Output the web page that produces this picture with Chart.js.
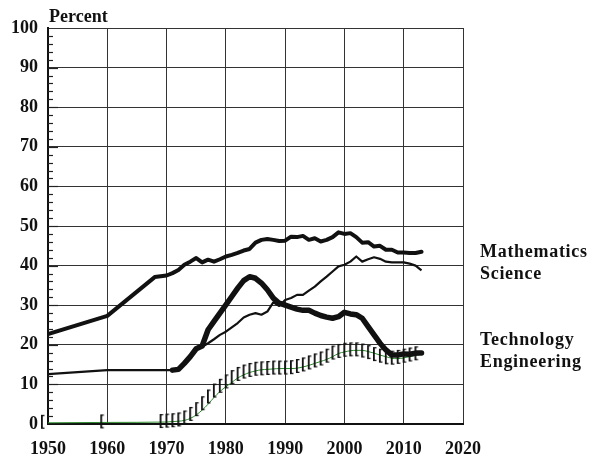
<!DOCTYPE html>
<html lang="en">
<head>
  <meta charset="UTF-8">
  <title>Percent by field</title>
  <script src="https://cdn.jsdelivr.net/npm/chart.js"></script>
  <style>
    html, body { margin: 0; padding: 0; background: #fff; }
    canvas { display: block; }
  </style>
</head>
<body>
  <canvas id="chart" width="596" height="459"></canvas>

  <script>
    // years shared by all series (null = no value that year)
    const years = [1950, 1960, 1968, 1969, 1970, 1971, 1972, 1973, 1974, 1975, 1976, 1977, 1978, 1979,
      1980, 1981, 1982, 1983, 1984, 1985, 1986, 1987, 1988, 1989, 1990, 1991, 1992, 1993, 1994,
      1995, 1996, 1997, 1998, 1999, 2000, 2001, 2002, 2003, 2004, 2005, 2006, 2007, 2008, 2009,
      2010, 2011, 2012, 2013];

    const mathematics = [22.7, 27.3, 37.1, 37.3, 37.5, 38.1, 38.9, 40.2, 41.0, 41.9, 40.8, 41.5, 41.0, 41.6,
      42.3, 42.7, 43.2, 43.8, 44.2, 45.8, 46.5, 46.7, 46.5, 46.2, 46.3, 47.3, 47.2, 47.5, 46.5,
      46.9, 46.1, 46.5, 47.2, 48.4, 48.0, 48.2, 47.2, 45.8, 45.9, 44.8, 45.0, 44.0, 44.0, 43.3,
      43.3, 43.2, 43.2, 43.5];

    const science = [12.6, 13.6, null, null, null, 13.6, 14.1, 15.3, 17.0, 18.7, 19.5, 20.4, 21.4, 22.5,
      23.3, 24.4, 25.5, 26.9, 27.6, 28.0, 27.6, 28.4, 30.7, 29.8, 31.3, 31.8, 32.6, 32.6, 33.7,
      34.7, 36.0, 37.2, 38.5, 39.8, 40.2, 41.0, 42.3, 41.0, 41.6, 42.1, 41.7, 41.0, 40.8, 40.8,
      40.8, 40.5, 40.0, 38.8];

    const technology = [null, null, null, null, null, 13.6, 13.8, 15.3, 17.0, 19.0, 19.7, 23.8, 25.9, 28.0,
      30.1, 32.2, 34.3, 36.2, 37.2, 36.8, 35.6, 33.9, 31.8, 30.5, 30.0, 29.5, 29.0, 28.7, 28.7,
      28.0, 27.4, 27.0, 26.7, 27.1, 28.2, 27.8, 27.6, 26.7, 24.6, 22.5, 20.4, 18.7, 17.4, 17.4,
      17.7, 17.6, 17.9, 17.9];

    const engineering = [0.3, 0.4, null, null, 0.5, 0.6, 0.7, 0.9, 1.4, 2.3, 3.5, 5.0, 6.7, 8.2,
      9.4, 10.5, 11.6, 12.4, 13.0, 13.4, 13.7, 13.8, 13.9, 14.0, 14.0, 14.0, 14.1, 14.4, 14.8,
      15.3, 15.8, 16.3, 17.0, 17.8, 18.2, 18.5, 18.6, 18.6, 18.3, 17.9, 17.4, 17.0, 16.6, 16.5,
      16.7, 17.0, 17.3, 17.6];

    const yTicks = [0, 10, 20, 30, 40, 50, 60, 70, 80, 90, 100];
    const xTicks = [1950, 1960, 1970, 1980, 1990, 2000, 2010, 2020];
    const sideLabels = ["Mathematics", "Science", "Technology", "Engineering"];

    const serif = '"Liberation Serif", "DejaVu Serif", serif';

    function pts(vals) {
      return years.map((x, i) => ({ x: x, y: vals[i] })).filter(p => p.y !== null);
    }

    // "[" marker used on the engineering series
    const bracket = document.createElement('canvas');
    bracket.width = 18;
    bracket.height = 20;
    (function () {
      const c = bracket.getContext('2d');
      c.fillStyle = '#111';
      c.fillRect(2, 2, 1.8, 14);     // stem
      c.fillRect(2, 2, 3.5, 1.3);    // top serif
      c.fillRect(2, 14.7, 3.5, 1.3); // bottom serif
    })();

    const extras = {
      id: 'extras',
      afterDraw(chart) {
        const ctx = chart.ctx;
        const area = chart.chartArea;
        const ys = chart.scales.y;
        ctx.save();
        // minor ticks on the left axis
        ctx.strokeStyle = '#222';
        ctx.lineWidth = 1.2;
        for (let v = 2; v < 100; v += 2) {
          const py = Math.round(ys.getPixelForValue(v)) + 0.5;
          ctx.beginPath();
          ctx.moveTo(area.left, py);
          ctx.lineTo(area.left + (v % 10 === 0 ? 10 : 5), py);
          ctx.stroke();
        }
        ctx.fillStyle = '#111';
        ctx.font = 'bold 18px ' + serif;
        ctx.textBaseline = 'middle';
        ctx.textAlign = 'left';
        ctx.fillText('Percent', area.left + 1, 17);
        // series names on the right
        ctx.letterSpacing = '0.7px';
        const sideY = [252, 274, 340, 362];
        sideLabels.forEach((t, i) => ctx.fillText(t, area.right + 17, sideY[i]));
        ctx.restore();
      }
    };

    new Chart(document.getElementById('chart'), {
      type: 'line',
      data: {
        datasets: [
          {
            label: 'Technology',
            data: pts(technology),
            borderColor: '#111',
            borderWidth: 5.5,
            pointRadius: 0,
            borderJoinStyle: 'round',
            borderCapStyle: 'round',
            spanGaps: true
          },
          {
            label: 'Mathematics',
            data: pts(mathematics),
            borderColor: '#111',
            borderWidth: 4,
            pointRadius: 0,
            borderJoinStyle: 'round',
            borderCapStyle: 'round',
            spanGaps: true
          },
          {
            label: 'Science',
            data: pts(science),
            borderColor: '#111',
            borderWidth: 2.2,
            pointRadius: 0,
            borderJoinStyle: 'round',
            spanGaps: true
          },
          {
            label: 'Engineering',
            data: pts(engineering),
            borderColor: '#2b8a2b',
            borderWidth: 1,
            tension: 0.4,
            cubicInterpolationMode: 'monotone',
            pointStyle: bracket,
            pointRadius: 8,
            clip: false,
            spanGaps: true
          }
        ]
      },
      options: {
        responsive: false,
        animation: false,
        devicePixelRatio: 1,
        layout: { padding: { top: 28, right: 133, left: 0, bottom: 0 } },
        plugins: {
          legend: { display: false },
          tooltip: { enabled: false }
        },
        scales: {
          x: {
            type: 'linear',
            min: 1950,
            max: 2020,
            afterBuildTicks: s => { s.ticks = xTicks.map(v => ({ value: v })); },
            afterFit: s => { s.height = 35; s.paddingLeft = 0; s.paddingRight = 0; },
            grid: { color: '#333', lineWidth: 1, drawTicks: false },
            border: { color: '#111', width: 2 },
            ticks: {
              color: '#111',
              padding: 15,
              maxRotation: 0,
              font: { family: serif, size: 18, weight: 'bold' },
              callback: v => String(v)
            }
          },
          y: {
            min: 0,
            max: 100,
            afterBuildTicks: s => { s.ticks = yTicks.map(v => ({ value: v })); },
            afterFit: s => { s.width = 48; s.paddingTop = 0; s.paddingBottom = 0; },
            grid: { color: '#333', lineWidth: 1, drawTicks: false },
            border: { color: '#111', width: 2 },
            ticks: {
              color: '#111',
              padding: 10,
              font: { family: serif, size: 18, weight: 'bold' },
              callback: v => String(v)
            }
          }
        }
      },
      plugins: [extras]
    });
  </script>
</body>
</html>
